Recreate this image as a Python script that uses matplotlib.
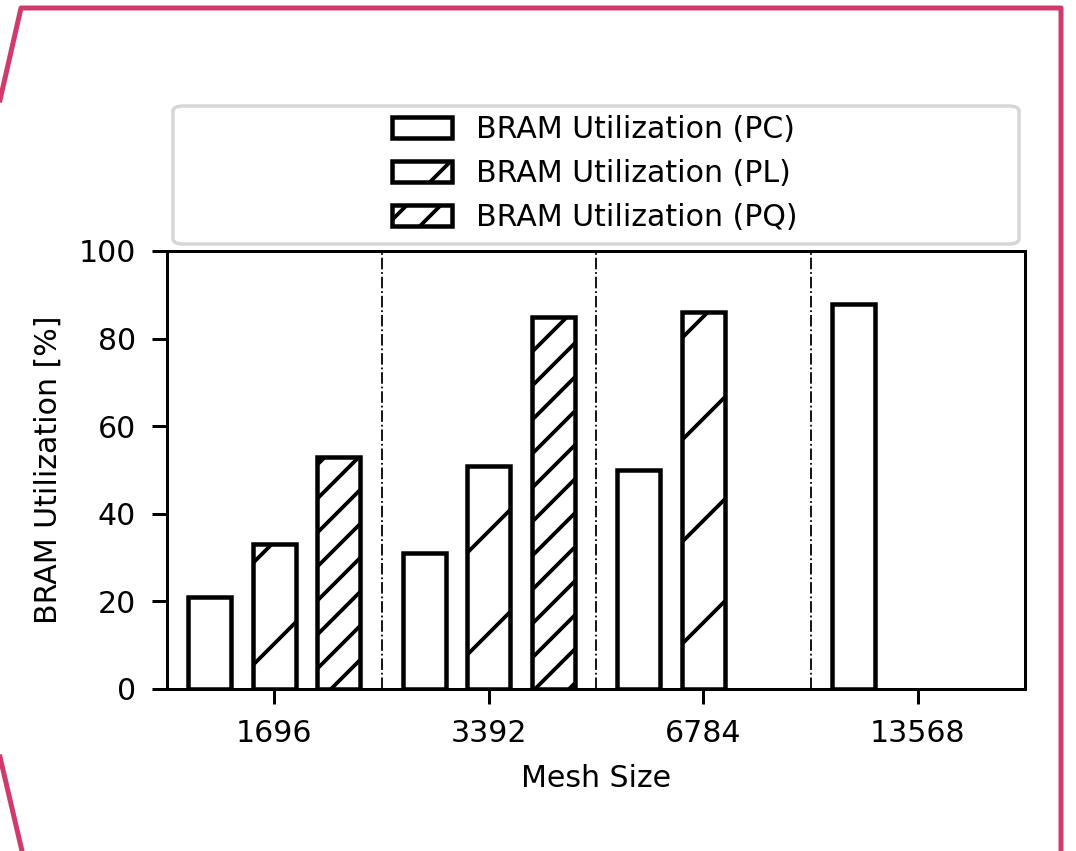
import numpy as np
import matplotlib
matplotlib.use("Agg")
import matplotlib.pyplot as plt
from matplotlib.lines import Line2D
from matplotlib.patches import FancyBboxPatch

mesh_sizes = ["1696", "3392", "6784", "13568"]
bram_pc = [21, 31, 50, 88]
bram_pl = [33, 51, 86, np.nan]
bram_pq = [53, 85, np.nan, np.nan]
series_labels = ["BRAM Utilization (PC)", "BRAM Utilization (PL)", "BRAM Utilization (PQ)"]
series_hatches = ["", "/", "///"]

W, H = 1076, 851
DPI = 306
PX = 72 / DPI  # one pixel in points

plt.rcParams.update({
    "font.family": "DejaVu Sans",
    "font.size": 30 * PX,
    "axes.linewidth": 3 * PX,
    "xtick.major.size": 15 * PX,
    "ytick.major.size": 15 * PX,
    "xtick.major.width": 3 * PX,
    "ytick.major.width": 3 * PX,
    "xtick.major.pad": 15 * PX,
    "ytick.major.pad": 16 * PX,
    "hatch.linewidth": 3.8 * PX,
    "hatch.color": "black",
})


def main() -> None:
    fig = plt.figure(figsize=(W / DPI, H / DPI), dpi=DPI)
    ax = fig.add_axes([167 / W, 1 - 689 / H, 858 / W, 438 / H])

    x = np.arange(len(mesh_sizes))
    width = 0.2
    offsets = [-0.3, 0.0, 0.3]
    handles = []
    for vals, off, hatch, label in zip([bram_pc, bram_pl, bram_pq], offsets,
                                       series_hatches, series_labels):
        bars = ax.bar(x + off, vals, width, color="white", edgecolor="black",
                      linewidth=4.5 * PX, hatch=hatch, label=label)
        handles.append(bars)

    for sep in x[:-1] + 0.5:
        ax.axvline(sep, color="black", linestyle="-.", linewidth=1.8 * PX)

    ax.set_xlim(-0.5, len(mesh_sizes) - 0.5)
    ax.set_ylim(0, 100)
    ax.set_yticks(range(0, 101, 20))
    ax.set_xticks(x)
    ax.set_xticklabels(mesh_sizes)
    ax.set_xlabel("Mesh Size", labelpad=16 * PX)
    ax.set_ylabel("BRAM Utilization [%]", labelpad=16 * PX)

    # legend frame spans the axes width, entries centred inside it
    frame = FancyBboxPatch((6 / 858, 445 / 438), 846 / 858, 138 / 438,
                           boxstyle="round,pad=0,rounding_size=0.012",
                           transform=ax.transAxes, clip_on=False,
                           facecolor="white", edgecolor="#d6d6d6",
                           linewidth=3.5 * PX, zorder=3)
    ax.add_patch(frame)
    leg = ax.legend(handles=handles, loc="center", bbox_to_anchor=(0.499, 1.176),
                    frameon=False, labelspacing=0.5, handlelength=2.0,
                    handleheight=0.7, handletextpad=0.8)
    leg.set_zorder(4)

    # pink outline around the screenshot
    pink = "#d23a6c"
    outline = [
        [(0, 100), (21, 8), (1061, 8), (1061, 851)],
        [(0, 757), (22, 851)],
    ]
    for pts in outline:
        xs = [p[0] / W for p in pts]
        ys = [1 - p[1] / H for p in pts]
        fig.add_artist(Line2D(xs, ys, transform=fig.transFigure, color=pink,
                              linewidth=5 * PX, solid_joinstyle="round"))

    fig.savefig("out.png", dpi=DPI)


if __name__ == "__main__":
    main()
